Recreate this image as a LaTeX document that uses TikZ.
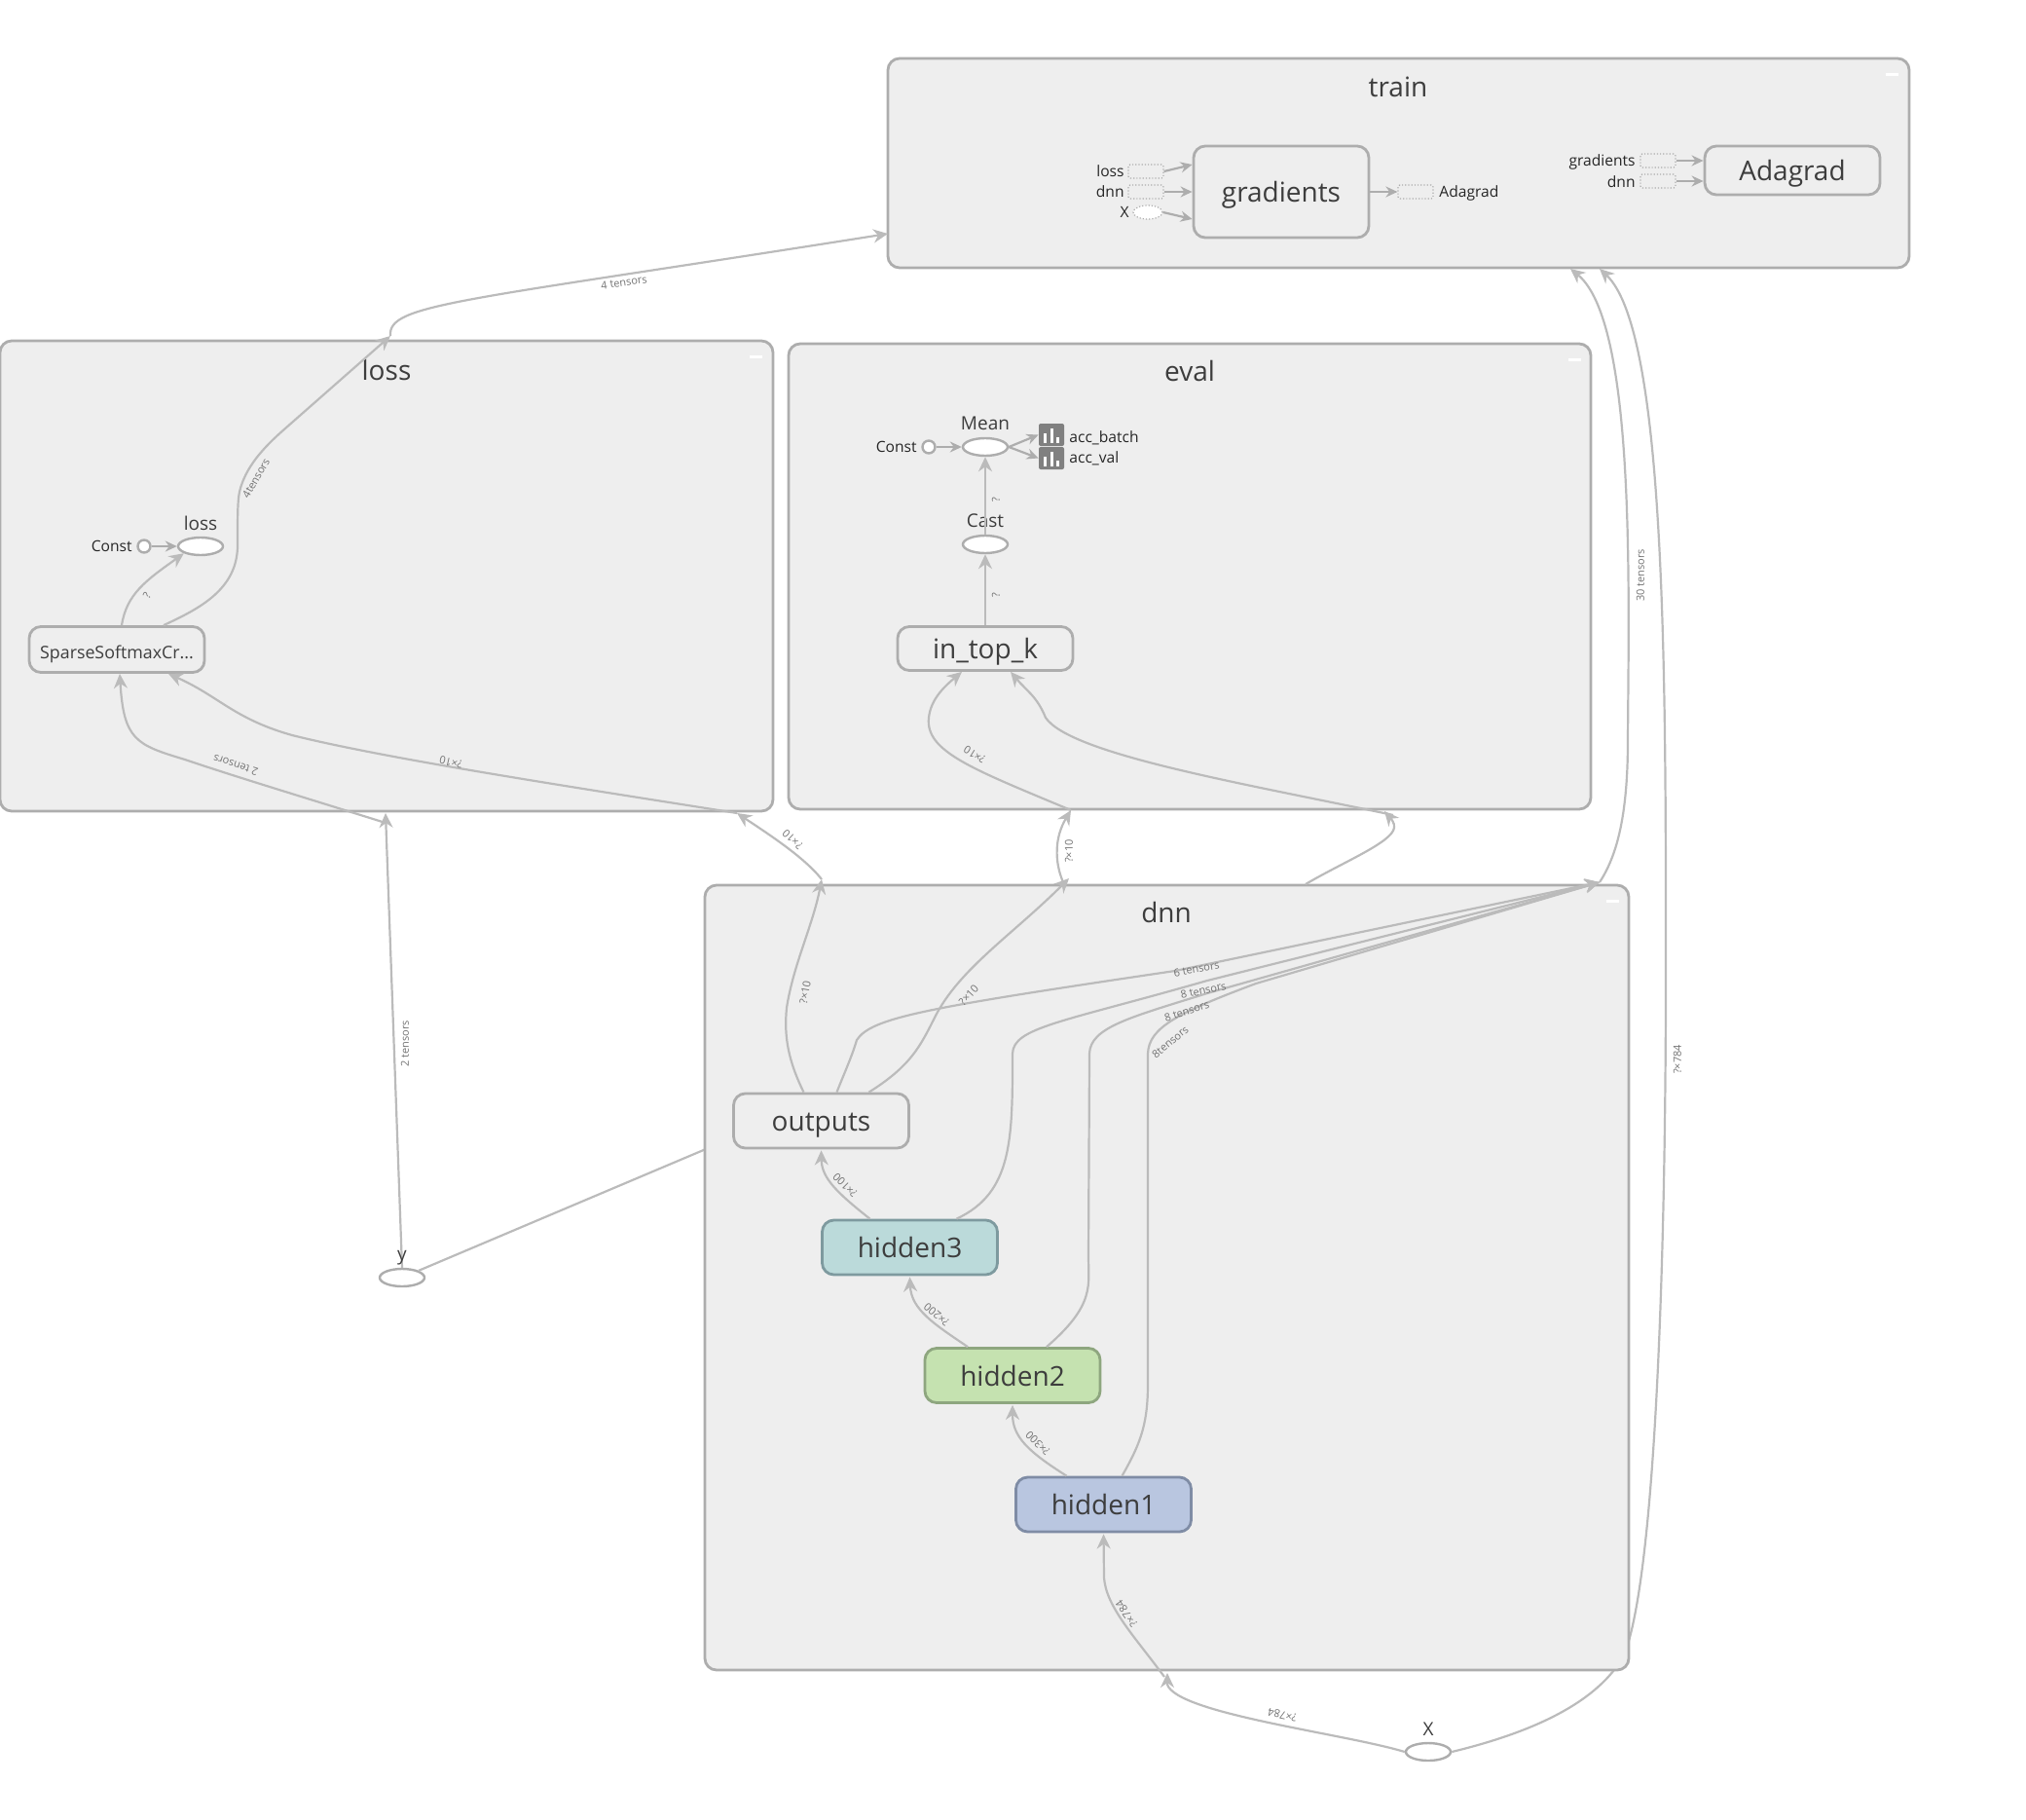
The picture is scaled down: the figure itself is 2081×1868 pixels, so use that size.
\documentclass[tikz,border=0pt]{standalone}
\usepackage{fontspec}
\setmainfont{Open Sans}
\usepackage{xcolor}
\usetikzlibrary{positioning, shapes, arrows.meta}

\definecolor{clusterfill}{HTML}{EEEEEE}
\definecolor{clusterline}{HTML}{ADADAD}
\definecolor{edgeline}{HTML}{BBBBBB}
\definecolor{textgray}{HTML}{3D3D3D}
\definecolor{hiddena}{HTML}{B9C6E0}
\definecolor{hiddenb}{HTML}{C5E2B0}
\definecolor{hiddenc}{HTML}{BBDADA}
\definecolor{hiddenaline}{HTML}{7F8CA5}
\definecolor{hiddenbline}{HTML}{8EA67F}
\definecolor{hiddencline}{HTML}{7E9A9F}

\tikzset{
  cluster/.style={draw=clusterline, fill=clusterfill, line width=1.4pt, rounded corners=6pt, rectangle},
  title/.style={text=textgray, font=\fontsize{14}{14}\selectfont},
  minus/.style={fill=white, rectangle, minimum width=6.5pt, minimum height=1.5pt, inner sep=0pt},
  op/.style={draw=clusterline, fill=clusterfill, line width=1.4pt, rectangle, rounded corners=6pt, minimum width=90pt, minimum height=28pt, inner sep=0pt, text=textgray, text height=13.5pt, text depth=2.7pt, font=\fontsize{14}{14}\selectfont},
  oval/.style={draw=clusterline, fill=white, line width=1.2pt, ellipse, minimum width=23pt, minimum height=9pt, inner sep=0pt},
  circ/.style={draw=clusterline, fill=white, line width=1.2pt, circle, minimum size=6.5pt, inner sep=0pt},
  proxy/.style={draw=clusterline, densely dotted, line width=0.6pt, rectangle, rounded corners=1pt, minimum width=18pt, minimum height=7pt, inner sep=0pt},
  stat/.style={fill=black!50, rectangle, rounded corners=1pt, minimum width=13pt, minimum height=11.5pt, inner sep=0pt},
  small/.style={text=black!85, font=\fontsize{7.8}{8}\selectfont, inner sep=0pt},
  opname/.style={text=textgray, font=\fontsize{9.5}{9.5}\selectfont, inner sep=0pt},
  elabel/.style={text=black!55, font=\fontsize{5.5}{5.5}\selectfont, inner sep=0pt},
  flow/.style={draw=edgeline, line width=1.1pt, -{Stealth[length=7.5pt, width=7pt]}},
  plain/.style={draw=edgeline, line width=1.1pt},
  aux/.style={draw=clusterline, line width=1.1pt, -{Stealth[length=6pt, width=5.5pt]}}
}

\begin{document}
\begin{tikzpicture}[x=0.5pt, y=-0.5pt]
  \useasboundingbox (0,0) rectangle (2081,1868);

  \node (x) [oval] at (1467,1799) {};
  \node (y) [oval] at (413,1312) {};
  \coordinate (dnnleft) at (725,1180);
  \coordinate (trainright) at (1643,276);

  \draw [flow] (x.east) .. controls (1570,1780) and (1640,1750) .. (1668,1700) .. controls (1700,1620) and (1711,1300) .. (1711,1000) .. controls (1711,700) and (1712,340) .. (trainright);
  \draw [plain] (y.north east) -- (dnnleft);

  \node (train) [cluster, minimum width=524.5pt, minimum height=107.5pt] at (1436.5,167.5) {};
  \node (loss) [cluster, minimum width=397pt, minimum height=241.5pt] at (397,591.5) {};
  \node (eval) [cluster, minimum width=412pt, minimum height=239pt] at (1222,592) {};
  \node (dnn) [cluster, minimum width=474.5pt, minimum height=403pt] at (1198.5,1312) {};

  \node (traintitle) [title] at (1436,89) {train};
  \node (losstitle) [title] at (397,380) {loss};
  \node (evaltitle) [title] at (1222,381) {eval};
  \node (dnntitle) [title] at (1198,937) {dnn};
  \node (trainminus) [minus] at (1943,77) {};
  \node (lossminus) [minus] at (776,366) {};
  \node (evalminus) [minus] at (1617,369) {};
  \node (dnnminus) [minus] at (1656,925) {};

  \node (gradients) [op, minimum height=47pt] at (1316,197) {gradients};
  \node (adagrad) [op, minimum height=25pt] at (1841,175) {Adagrad};
  \node (gradloss) [proxy] at (1177,176) {};
  \node (graddnn) [proxy] at (1177,197) {};
  \node (gradx) [proxy, ellipse, fill=white, minimum width=15pt] at (1179,218) {};
  \node (gradout) [proxy] at (1454,197) {};
  \node (adagrad1) [proxy] at (1703,165) {};
  \node (adagrad2) [proxy] at (1703,186) {};
  \node (gradlosstext) [small, anchor=east] at (1155,176) {loss};
  \node (graddnntext) [small, anchor=east] at (1155,197) {dnn};
  \node (gradxtext) [small, anchor=east] at (1160,218) {X};
  \node (gradouttext) [small, anchor=west] at (1478,198) {Adagrad};
  \node (adagrad1text) [small, anchor=east] at (1680,166) {gradients};
  \node (adagrad2text) [small, anchor=east] at (1680,187) {dnn};
  \draw [aux] (gradloss.east) -- ([yshift=14pt]gradients.west);
  \draw [aux] (graddnn.east) -- (gradients.west);
  \draw [aux] (gradx.east) -- ([yshift=-14pt]gradients.west);
  \draw [aux] (gradients.east) -- (gradout.west);
  \draw [aux] (adagrad1.east) -- ([yshift=5pt]adagrad.west);
  \draw [aux] (adagrad2.east) -- ([yshift=-5.5pt]adagrad.west);

  \node (softmax) [op, minimum height=23.5pt, text height=10pt, text depth=1pt, font=\fontsize{8.9}{9}\selectfont] at (120,667) {SparseSoftmaxCr...};
  \node (lossop) [oval] at (206,561) {};
  \node (lossname) [opname] at (206,537) {loss};
  \node (lossconst) [circ] at (148,561) {};
  \node (lossconsttext) [small, anchor=east] at (136,561) {Const};
  \draw [aux] (lossconst) -- (lossop);
  \draw [flow] ([xshift=2.5pt]softmax.north) .. controls (130,610) and (150,596) .. (lossop.south west);
  \node (lossq) [elabel, rotate=60] at (151,611) {?};

  \node (intopk) [op, minimum height=22.5pt] at (1012,666) {in\_top\_k};
  \node (cast) [oval] at (1012,559) {};
  \node (castname) [opname] at (1012,535) {Cast};
  \node (mean) [oval] at (1012,459) {};
  \node (meanname) [opname] at (1012,435) {Mean};
  \node (evalconst) [circ] at (954,459) {};
  \node (evalconsttext) [small, anchor=east] at (942,459) {Const};
  \node (acc1) [stat] at (1080,446.5) {};
  \node (acc2) [stat] at (1080,470.5) {};
  \foreach \acc in {acc1, acc2} {
    \fill [white] ([xshift=-4pt, yshift=-4pt]\acc.center) rectangle +(3,-10);
    \fill [white] ([xshift=-0.7pt, yshift=-4pt]\acc.center) rectangle +(3,-15);
    \fill [white] ([xshift=2.6pt, yshift=-4pt]\acc.center) rectangle +(3,-6);
  }
  \node (acc1text) [small, anchor=west] at (1098,449.5) {acc\_batch};
  \node (acc2text) [small, anchor=west] at (1098,470.5) {acc\_val};
  \draw [aux] (evalconst) -- (mean);
  \draw [aux] (mean.east) -- (acc1.west);
  \draw [aux] (mean.east) -- (acc2.west);
  \draw [flow] (intopk.north) -- (cast.south);
  \draw [flow] (cast.north) -- (mean.south);
  \node (evalq1) [elabel, rotate=90] at (1023,513) {?};
  \node (evalq2) [elabel, rotate=90] at (1023,611) {?};

  \node (outputs) [op] at (843.5,1151) {outputs};
  \node (hidden3) [op, fill=hiddenc, draw=hiddencline] at (934.5,1281) {hidden3};
  \node (hidden2) [op, fill=hiddenb, draw=hiddenbline] at (1040,1412.5) {hidden2};
  \node (hidden1) [op, fill=hiddena, draw=hiddenaline] at (1133.5,1545) {hidden1};

  \coordinate (trainleft) at (912,240);
  \coordinate (lossup) at (401,345);
  \coordinate (lossdown) at (396,835);
  \coordinate (lossstart) at (396,845);
  \coordinate (lossright) at (757,835);
  \coordinate (dnnout) at (1643,906);
  \coordinate (trainmid) at (1613,276);
  \coordinate (dnnup1) at (844,903);
  \coordinate (dnnup2) at (1098,902);
  \coordinate (dnnarc) at (1092,906);
  \coordinate (dnnup3) at (1341,908);
  \coordinate (evalin1) at (1100,832);
  \coordinate (evalin2) at (1422,833);
  \coordinate (evalstart) at (1431,837);
  \coordinate (dnnlow) at (1199,1718);
  \coordinate (dnnend) at (1196,1722);

  \draw [flow] ([xshift=24pt]softmax.north) .. controls (205,625) and (244,605) .. (244,560) .. controls (244,530) and (244,515) .. (246,505) .. controls (252,480) and (270,460) .. (293,440) -- (lossup);
  \draw [flow] (lossup) .. controls (398,312) and (470,310) .. (trainleft);
  \draw [flow] (y.north) -- (lossdown);
  \draw [flow] (lossstart) .. controls (300,815) and (240,797) .. (190,780) .. controls (140,765) and (127,760) .. ([xshift=1.5pt]softmax.south);
  \draw [flow] (lossright) .. controls (600,810) and (400,780) .. (300,755) .. controls (240,738) and (225,715) .. ([xshift=26.5pt]softmax.south);
  \draw [flow] (dnnup1) .. controls (826,880) and (787,855) .. (lossright);
  \draw [flow] ([xshift=-9pt]outputs.north) .. controls (810,1090) and (805,1065) .. (808,1035) .. controls (815,990) and (835,950) .. (dnnup1);
  \draw [flow] ([xshift=24.5pt]outputs.north) .. controls (935,1095) and (945,1075) .. (960,1045) .. controls (985,995) and (1040,960) .. (dnnup2);
  \draw [flow] (dnnarc) .. controls (1083,885) and (1083,860) .. (evalin1);
  \draw [flow] (evalin1) .. controls (1000,790) and (950,772) .. (954,737) .. controls (956,718) and (970,705) .. ([xshift=-12pt]intopk.south);
  \draw [flow] (dnnup3) .. controls (1380,885) and (1430,865) .. (1432,850) .. controls (1433,845) and (1428,840) .. (evalin2);
  \draw [flow] (evalstart) .. controls (1280,805) and (1100,775) .. (1074,737) .. controls (1065,715) and (1055,710) .. ([xshift=13pt]intopk.south);

  \draw [flow] ([xshift=8pt]outputs.north) .. controls (868,1100) and (875,1085) .. (880,1068) .. controls (895,1045) and (950,1035) .. (1207,997) -- (dnnout);
  \draw [flow] ([xshift=24pt]hidden3.north) .. controls (1040,1225) and (1040,1170) .. (1040,1082) .. controls (1041,1055) and (1090,1050) .. (1240,1007) -- (dnnout);
  \draw [flow] ([xshift=17.5pt]hidden2.north) .. controls (1125,1340) and (1118,1320) .. (1118,1290) -- (1119,1082) .. controls (1120,1055) and (1160,1045) .. (1240,1020) -- (dnnout);
  \draw [flow] ([xshift=9.5pt]hidden1.north) .. controls (1173,1480) and (1179,1460) .. (1179,1420) -- (1179,1082) .. controls (1180,1055) and (1210,1040) .. (1290,1010) -- (dnnout);

  \draw [flow] (dnnout) .. controls (1660,880) and (1672,840) .. (1672,760) .. controls (1673,600) and (1680,330) .. (trainmid);

  \draw [flow] (dnnend) .. controls (1165,1680) and (1136,1650) .. (1134,1620) -- ([yshift=-0.5pt]hidden1.south);
  \draw [flow] (x.west) .. controls (1380,1780) and (1210,1760) .. (1199,1730) -- (dnnlow);
  \draw [flow] ([xshift=-19pt]hidden1.north) .. controls (1055,1490) and (1040,1475) .. ([yshift=-0.5pt]hidden2.south);
  \draw [flow] ([xshift=-23pt]hidden2.north) .. controls (960,1360) and (936,1345) .. ([yshift=-0.5pt]hidden3.south);
  \draw [flow] ([xshift=-20.5pt]hidden3.north) .. controls (860,1225) and (844,1210) .. ([yshift=-0.5pt]outputs.south);

  \node (xtext) [opname] at (1467,1776) {X};
  \node (ytext) [opname] at (413,1292) {y};

  \node (label4a) [elabel, rotate=8] at (641,290) {4 tensors};
  \node (label4b) [elabel, rotate=60] at (263,491) {4tensors};
  \node (label2a) [elabel, rotate=162] at (242,786) {2 tensors};
  \node (label2b) [elabel, rotate=90] at (416,1072) {2 tensors};
  \node (label10a) [elabel, rotate=167] at (463,783) {?×10};
  \node (label10b) [elabel, rotate=137] at (814,862) {?×10};
  \node (label10c) [elabel, rotate=80] at (827,1019) {?×10};
  \node (label10d) [elabel, rotate=47] at (995,1022) {?×10};
  \node (label10e) [elabel, rotate=90] at (1098,874) {?×10};
  \node (label10f) [elabel, rotate=148] at (1001,775) {?×10};
  \node (label6) [elabel, rotate=10] at (1229,995) {6 tensors};
  \node (label8a) [elabel, rotate=12] at (1236,1017) {8 tensors};
  \node (label8b) [elabel, rotate=18] at (1219,1038) {8 tensors};
  \node (label8c) [elabel, rotate=40] at (1202,1070) {8tensors};
  \node (label30) [elabel, rotate=90] at (1685,591) {30 tensors};
  \node (label784a) [elabel, rotate=90] at (1723,1088) {?×784};
  \node (label784b) [elabel, rotate=168] at (1317,1761) {?×784};
  \node (label784c) [elabel, rotate=125] at (1157,1657) {?×784};
  \node (label300) [elabel, rotate=135] at (1066,1482) {?×300};
  \node (label200) [elabel, rotate=140] at (962,1350) {?×200};
  \node (label100) [elabel, rotate=135] at (868,1217) {?×100};
\end{tikzpicture}
\end{document}
